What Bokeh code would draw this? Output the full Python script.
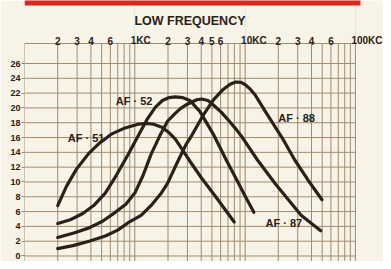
from bokeh.plotting import figure
from bokeh.models import FixedTicker, Range1d
from bokeh.core.properties import value
from bokeh.embed import file_html
from bokeh.resources import INLINE

# ---- data (frequency in Hz, response in dB) ----
af51_freq = [200, 240, 295, 385, 475, 620, 815, 1070, 1270, 1480, 1760, 2060, 2330, 2580, 3160, 4040, 5480, 7970]
af51_gain = [6.8, 9.4, 11.7, 13.9, 15.2, 16.5, 17.3, 17.8, 17.9, 17.8, 17.4, 16.6, 15.8, 14.8, 12.8, 10.5, 7.9, 4.6]

af52_freq = [200, 260, 335, 430, 540, 680, 870, 1080, 1310, 1540, 1780, 2050, 2330, 2700, 3160, 3900, 5130, 6730, 8250, 10000, 12000]
af52_gain = [4.4, 4.9, 5.7, 6.9, 8.5, 10.9, 13.7, 16.3, 18.6, 20.1, 21.0, 21.4, 21.5, 21.4, 21.0, 19.5, 16.5, 13.0, 10.5, 8.1, 5.9]

af87_freq = [200, 280, 385, 510, 665, 830, 1000, 1190, 1400, 1680, 1980, 2300, 2590, 2900, 3290, 3650, 4040, 4600,
             5160, 6100, 7200, 8300, 9460, 12900, 18700, 25000, 32200, 40000, 48500]
af87_gain = [2.5, 3.1, 3.8, 4.7, 5.9, 7.0, 8.5, 10.9, 13.7, 16.2, 18.2, 19.2, 19.9, 20.4, 20.8, 21.1, 21.2, 21.0,
             20.4, 19.4, 18.2, 17.1, 16.0, 13.0, 9.8, 7.5, 5.5, 4.4, 3.4]

af88_freq = [200, 275, 385, 540, 700, 870, 1140, 1400, 1720, 1980, 2420, 2900, 3290, 4200, 5160, 6330, 7300, 8250,
             9200, 10100, 11200, 12400, 15900, 21600, 28100, 37400, 49800]
af88_gain = [1.0, 1.4, 2.0, 2.7, 3.5, 4.5, 5.5, 6.8, 8.4, 9.8, 12.6, 15.0, 16.3, 19.1, 21.1, 22.5, 23.2, 23.5,
             23.45, 23.1, 22.5, 21.7, 19.1, 16.0, 13.0, 10.2, 7.6]

curve_names = ["AF \u00b7 51", "AF \u00b7 52", "AF \u00b7 87", "AF \u00b7 88"]

y_ticks = list(range(0, 27, 2))
top_tick_freqs = [200, 300, 400, 600, 1000, 2000, 3000, 4000, 5000, 6000, 10000, 20000, 30000, 40000, 60000, 100000]
top_tick_labels = ["2", "3", "4", "6", "1KC", "2", "3", "4", "5", "6", "10KC", "2", "3", "4", "6", "100KC"]
grid_freqs = [m * 10 ** d for d in (2, 3, 4) for m in range(1, 10)] + [100000]

title_text = "LOW FREQUENCY"

# ---- layout constants (not data) ----
F_MIN, F_MAX = 100, 100000           # extent of the printed grid
X_RIGHT = 179800                     # right edge of canvas in Hz
Y_BOTTOM, Y_GRID_TOP = -0.743, 28.70 # grid frame (dB)
Y_TOP = 34.51                        # top of the canvas, room for title/banner
BANNER_BOTTOM, BANNER_RIGHT = 33.83, 111200
TITLE_Y, TOP_LABEL_Y = 31.74, 29.04

INK = "#2b2119"
GRID = "#a08c72"
FONT = "Liberation Sans"

p = figure(width=383, height=261, x_axis_type="log",
           x_range=Range1d(F_MIN, X_RIGHT), y_range=Range1d(Y_BOTTOM, Y_TOP),
           x_axis_location=None, y_axis_location="left",
           output_backend="svg", toolbar_location=None,
           min_border=0, min_border_left=24, min_border_right=0, min_border_top=0, min_border_bottom=0)

p.background_fill_color = "#f7f3e6"
p.border_fill_color = "#f7f3e6"
p.outline_line_color = None
p.ygrid.visible = False

# printed grid of the chart paper
p.segment(x0=grid_freqs, y0=[Y_BOTTOM] * len(grid_freqs), x1=grid_freqs, y1=[Y_GRID_TOP] * len(grid_freqs),
          line_color=GRID, line_width=1)
p.segment(x0=[F_MIN] * len(y_ticks), y0=y_ticks, x1=[F_MAX] * len(y_ticks), y1=y_ticks,
          line_color=GRID, line_width=1)
p.segment(x0=[F_MIN], y0=[Y_GRID_TOP], x1=[F_MAX], y1=[Y_GRID_TOP], line_color=GRID, line_width=1)

# y axis
p.yaxis.ticker = FixedTicker(ticks=y_ticks)
p.yaxis.axis_line_color = None
p.yaxis.major_tick_out = 3
p.yaxis.major_tick_in = 0
p.yaxis.minor_tick_line_color = None
p.yaxis.major_tick_line_color = GRID
p.yaxis.major_label_standoff = 1
p.yaxis.major_label_text_font = FONT
p.yaxis.major_label_text_font_style = "bold"
p.yaxis.major_label_text_font_size = "9px"
p.yaxis.major_label_text_color = INK

# curves
series = [(af51_freq, af51_gain), (af52_freq, af52_gain), (af87_freq, af87_gain), (af88_freq, af88_gain)]
for fx, gy in series:
    p.line(fx, gy, line_color=INK, line_width=3.2, line_join="round", line_cap="round")

# curve labels
label_x = [362, 986, 22460, 29290]
label_y = [16.0, 20.9, 4.4, 18.7]
p.text(x=label_x, y=label_y, text=curve_names, text_align="center", text_baseline="middle",
       text_font=value(FONT), text_font_style="bold", text_font_size="11px", text_color=INK)

# top frequency scale
num_f = [f for f, t in zip(top_tick_freqs, top_tick_labels) if "KC" not in t]
num_t = [t for t in top_tick_labels if "KC" not in t]
kc_f = [f for f, t in zip(top_tick_freqs, top_tick_labels) if "KC" in t]
kc_t = [t for t in top_tick_labels if "KC" in t]
p.text(x=num_f, y=[TOP_LABEL_Y] * len(num_f), text=num_t, text_align="center", text_baseline="alphabetic",
       text_font=value(FONT), text_font_style="bold", text_font_size="10px", text_color=INK)
p.text(x=kc_f, y=[TOP_LABEL_Y] * len(kc_f), text=kc_t, text_align="left", text_baseline="alphabetic",
       x_offset=-4, text_font=value(FONT), text_font_style="bold", text_font_size="10px", text_color=INK)

# title
p.text(x=[3162], y=[TITLE_Y], text=[title_text], text_align="center", text_baseline="alphabetic",
       text_font=value(FONT), text_font_style="bold", text_font_size="12.5px", text_color=INK)

# red banner
p.quad(left=[F_MIN], right=[BANNER_RIGHT], bottom=[BANNER_BOTTOM], top=[Y_TOP + 1], fill_color="#d8281e",
       line_color=None)

open("out.html", "w").write(file_html(p, INLINE))
